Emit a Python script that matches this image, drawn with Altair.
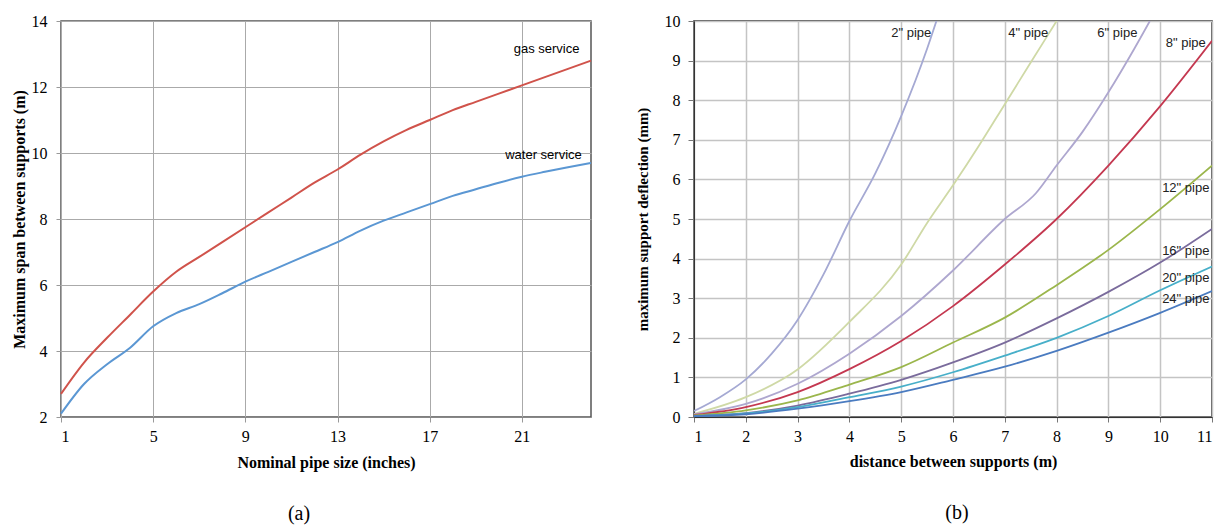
import altair as alt
import pandas as pd

# ---------- panel (a) data ----------
pipe_size = list(range(1, 25))
gas_span = [2.7, 3.65, 4.4, 5.1, 5.8, 6.4, 6.85, 7.3, 7.75, 8.2, 8.65, 9.1, 9.5,
            9.95, 10.35, 10.7, 11.0, 11.3, 11.55, 11.8, 12.05, 12.3, 12.55, 12.8]
water_span = [2.1, 3.0, 3.6, 4.1, 4.75, 5.15, 5.42, 5.75, 6.1, 6.4, 6.7, 7.0, 7.3,
              7.65, 7.95, 8.2, 8.45, 8.7, 8.9, 9.1, 9.28, 9.43, 9.57, 9.7]
service_names = ["gas service", "water service"]
service_colors = ["#d0534b", "#5b97d3"]
service_label_x = [23.5, 23.6]
service_label_y = [13.15, 9.95]

# ---------- panel (b) data ----------
pipe_names = ['2" pipe', '4" pipe', '6" pipe', '8" pipe', '12" pipe', '16" pipe', '20" pipe', '24" pipe']
pipe_colors = ["#a5a9d3", "#cfd9a6", "#aea7cf", "#c43850", "#9bb64c", "#7a6b9c", "#47afc9", "#4a7bc0"]
dist_2 = [1, 1.5, 2, 2.5, 3, 3.5, 4, 4.5, 5, 5.5, 5.68]
defl_2 = [0.15, 0.5, 0.95, 1.6, 2.45, 3.6, 4.95, 6.15, 7.6, 9.3, 10.0]
dist_4 = [1, 2, 3, 4, 5, 5.5, 6, 6.5, 7, 7.5, 8.0]
defl_4 = [0.08, 0.5, 1.2, 2.4, 3.85, 4.9, 5.85, 6.85, 7.9, 8.95, 10.0]
dist_6 = [1, 2, 3, 4, 5, 6, 7, 7.6, 8, 8.5, 9, 9.5, 9.8]
defl_6 = [0.07, 0.33, 0.84, 1.6, 2.55, 3.7, 5.0, 5.65, 6.35, 7.2, 8.2, 9.3, 10.0]
dist_std = [1, 2, 3, 4, 5, 6, 7, 8, 9, 10, 11]
defl_8 = [0.05, 0.25, 0.63, 1.21, 1.92, 2.8, 3.85, 5.0, 6.35, 7.85, 9.5]
defl_12 = [0.04, 0.17, 0.42, 0.82, 1.26, 1.88, 2.51, 3.33, 4.22, 5.25, 6.35]
defl_16 = [0.03, 0.1, 0.29, 0.59, 0.94, 1.38, 1.88, 2.49, 3.16, 3.9, 4.75]
defl_20 = [0.02, 0.09, 0.25, 0.5, 0.77, 1.13, 1.55, 2.0, 2.55, 3.2, 3.8]
defl_24 = [0.02, 0.07, 0.21, 0.4, 0.63, 0.94, 1.27, 1.67, 2.13, 2.63, 3.18]
pipe_label_x = [5.58, 7.84, 9.56, 10.88, 10.95, 10.95, 10.95, 10.95]
pipe_label_y = [9.7, 9.7, 9.7, 9.45, 5.78, 4.2, 3.5, 2.98]

SERIF = "Liberation Serif"
SANS = "Liberation Sans"

# ---------- build tables ----------
rows_a = []
for s, vals in zip(service_names, [gas_span, water_span]):
    for x, v in zip(pipe_size, vals):
        rows_a.append({"size": x, "span": v, "service": s})
df_a = pd.DataFrame(rows_a)
lab_a = pd.DataFrame({"service": service_names, "size": service_label_x, "span": service_label_y})

series_b = [(dist_2, defl_2), (dist_4, defl_4), (dist_6, defl_6), (dist_std, defl_8),
            (dist_std, defl_12), (dist_std, defl_16), (dist_std, defl_20), (dist_std, defl_24)]
rows_b = []
for name, (xs, ys) in zip(pipe_names, series_b):
    for x, v in zip(xs, ys):
        rows_b.append({"dist": x, "defl": v, "pipe": name})
df_b = pd.DataFrame(rows_b)
lab_b = pd.DataFrame({"pipe": pipe_names, "dist": pipe_label_x, "defl": pipe_label_y})

# ---------- panel (a) ----------
xa = alt.X("size:Q", scale=alt.Scale(domain=[1, 24], nice=False, zero=False),
           axis=alt.Axis(values=[1, 5, 9, 13, 17, 21], title="Nominal pipe size (inches)",
                         labelFont=SERIF, labelFontSize=16, labelColor="black", labelPadding=6,
                         titleFont=SERIF, titleFontSize=16, titleFontWeight="bold", titleColor="black",
                         titlePadding=10, tickSize=5, tickColor="#999999", domainColor="#888888",
                         gridColor="#aaaaaa", gridWidth=1))
ya = alt.Y("span:Q", scale=alt.Scale(domain=[2, 14], nice=False, zero=False),
           axis=alt.Axis(values=[2, 4, 6, 8, 10, 12, 14], title="Maximum span between supports (m)",
                         labelFont=SERIF, labelFontSize=16, labelColor="black", labelPadding=9,
                         titleFont=SERIF, titleFontSize=16, titleFontWeight="bold", titleColor="black",
                         titlePadding=4, tickSize=5, tickColor="#999999", domainColor="#aaaaaa",
                         gridColor="#aaaaaa", gridWidth=1))
color_a = alt.Color("service:N", scale=alt.Scale(domain=service_names, range=service_colors), legend=None)

lines_a = alt.Chart(df_a).mark_line(interpolate="monotone", strokeWidth=2).encode(
    x=xa, y=ya, color=color_a, detail="service:N")
text_a = alt.Chart(lab_a).mark_text(align="right", baseline="middle", font=SANS, fontSize=13,
                                    color="black").encode(x=xa, y=ya, text="service:N")
panel_a = alt.layer(lines_a, text_a).properties(
    width=530, height=396,
    view=alt.ViewBackground(stroke="#555555", strokeWidth=1.5),
    title=alt.TitleParams(text="(a)", orient="bottom", font=SERIF, fontSize=20, fontWeight="normal",
                          color="black", offset=34, anchor="middle", dx=-27))

# ---------- panel (b) ----------
xb = alt.X("dist:Q", scale=alt.Scale(domain=[1, 11], nice=False, zero=False),
           axis=alt.Axis(values=list(range(1, 12)), title="distance between supports (m)",
                         labelFont=SERIF, labelFontSize=16, labelColor="black", labelPadding=6,
                         titleFont=SERIF, titleFontSize=16, titleFontWeight="bold", titleColor="black",
                         titlePadding=9, tickSize=5, tickColor="#777777", domainColor="#333333",
                         gridColor="#c4c4c4", gridWidth=1.5))
yb = alt.Y("defl:Q", scale=alt.Scale(domain=[0, 10], nice=False, zero=False),
           axis=alt.Axis(values=list(range(0, 11)), title="maximum support deflection (mm)",
                         labelFont=SERIF, labelFontSize=16, labelColor="black", labelPadding=8,
                         titleFont=SERIF, titleFontSize=15, titleFontWeight="bold", titleColor="black",
                         titlePadding=14, tickSize=6, tickColor="#777777", domainColor="#333333",
                         gridColor="#c4c4c4", gridWidth=1.5))
color_b = alt.Color("pipe:N", scale=alt.Scale(domain=pipe_names, range=pipe_colors), legend=None)

lines_b = alt.Chart(df_b).mark_line(interpolate="monotone", strokeWidth=1.8, clip=True).encode(
    x=xb, y=yb, color=color_b, detail="pipe:N")
text_b = alt.Chart(lab_b).mark_text(align="right", baseline="middle", font=SANS, fontSize=13,
                                    color="#222222").encode(x=xb, y=yb, text="pipe:N")
panel_b = alt.layer(lines_b, text_b).properties(
    width=518, height=396,
    view=alt.ViewBackground(stroke="#222222", strokeWidth=1.5),
    title=alt.TitleParams(text="(b)", orient="bottom", font=SERIF, fontSize=20, fontWeight="normal",
                          color="black", offset=34, anchor="middle", dx=4))

chart = alt.hconcat(panel_a, panel_b, spacing=38).resolve_scale(color="independent").properties(
    padding={"left": 2, "top": 4, "right": 0, "bottom": 0},
    background="white")

chart.save("out.html", embed_options={"renderer": "svg", "actions": False})
